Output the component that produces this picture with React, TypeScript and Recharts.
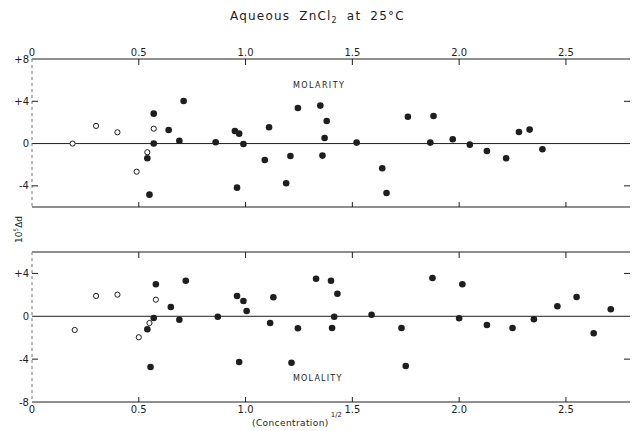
import React from 'react';
import {
  ScatterChart,
  Scatter,
  XAxis,
  YAxis,
  ReferenceLine,
} from 'recharts';

// (Concentration)^1/2 vs 10^5 Δd
const molarityOpen = [
  { x: 0.19, y: 0 },
  { x: 0.3, y: 1.67 },
  { x: 0.4, y: 1.07 },
  { x: 0.57, y: 1.41 },
  { x: 0.54, y: -0.82 },
  { x: 0.49, y: -2.66 },
];

const molarityFilled = [
  { x: 0.57, y: 2.83 },
  { x: 0.71, y: 4.03 },
  { x: 0.64, y: 1.29 },
  { x: 0.57, y: 0 },
  { x: 0.69, y: 0.27 },
  { x: 0.54, y: -1.39 },
  { x: 0.55, y: -4.83 },
  { x: 0.86, y: 0.12 },
  { x: 0.95, y: 1.19 },
  { x: 0.97, y: 0.94 },
  { x: 0.99, y: -0.04 },
  { x: 0.96, y: -4.17 },
  { x: 1.11, y: 1.54 },
  { x: 1.09, y: -1.55 },
  { x: 1.21, y: -1.17 },
  { x: 1.19, y: -3.76 },
  { x: 1.245, y: 3.37 },
  { x: 1.35, y: 3.59 },
  { x: 1.38, y: 2.14 },
  { x: 1.37, y: 0.53 },
  { x: 1.36, y: -1.14 },
  { x: 1.52, y: 0.09 },
  { x: 1.64, y: -2.34 },
  { x: 1.66, y: -4.67 },
  { x: 1.76, y: 2.54 },
  { x: 1.88, y: 2.61 },
  { x: 1.865, y: 0.09 },
  { x: 1.97, y: 0.41 },
  { x: 2.05, y: -0.1 },
  { x: 2.13, y: -0.7 },
  { x: 2.22, y: -1.39 },
  { x: 2.28, y: 1.1 },
  { x: 2.33, y: 1.32 },
  { x: 2.39, y: -0.54 },
];

const molalityOpen = [
  { x: 0.2, y: -1.28 },
  { x: 0.3, y: 1.9 },
  { x: 0.4, y: 2.02 },
  { x: 0.58, y: 1.55 },
  { x: 0.55, y: -0.63 },
  { x: 0.5, y: -1.96 },
];

const molalityFilled = [
  { x: 0.58, y: 2.99 },
  { x: 0.72, y: 3.32 },
  { x: 0.65, y: 0.87 },
  { x: 0.57, y: -0.16 },
  { x: 0.54, y: -1.21 },
  { x: 0.555, y: -4.73 },
  { x: 0.69, y: -0.32 },
  { x: 0.87, y: -0.04 },
  { x: 0.96, y: 1.9 },
  { x: 0.99, y: 1.43 },
  { x: 1.005, y: 0.49 },
  { x: 0.97, y: -4.27 },
  { x: 1.13, y: 1.77 },
  { x: 1.115, y: -0.63 },
  { x: 1.245, y: -1.12 },
  { x: 1.215, y: -4.33 },
  { x: 1.33, y: 3.51 },
  { x: 1.4, y: 3.32 },
  { x: 1.43, y: 2.11 },
  { x: 1.415, y: -0.04 },
  { x: 1.405, y: -1.09 },
  { x: 1.59, y: 0.15 },
  { x: 1.73, y: -1.09 },
  { x: 1.75, y: -4.64 },
  { x: 1.875, y: 3.58 },
  { x: 2.015, y: 2.99 },
  { x: 2.0, y: -0.19 },
  { x: 2.13, y: -0.81 },
  { x: 2.25, y: -1.09 },
  { x: 2.35, y: -0.28 },
  { x: 2.46, y: 0.93 },
  { x: 2.55, y: 1.8 },
  { x: 2.63, y: -1.59 },
  { x: 2.71, y: 0.65 },
];

const xTicks = [0, 0.5, 1.0, 1.5, 2.0, 2.5];
const xInnerTicks = [0.5, 1.0, 1.5, 2.0, 2.5];
const molarityYTicks = [-4, 0, 4, 8];
const molalityYTicks = [-8, -4, 0, 4];
const sideTicks = [-4, 4];

const INK = '#1e1e1e';
const FONT = '"DejaVu Sans", Arial, sans-serif';

const fmtX = (v: number) => (v === 0 ? '0' : v.toFixed(1));
const fmtY = (v: number) => (v > 0 ? `+${v}` : `${v}`);

const openDot = (p: any) => (
  <circle cx={p.cx} cy={p.cy} r={2.6} fill="#fff" stroke={INK} strokeWidth={1} />
);
const filledDot = (p: any) => <circle cx={p.cx} cy={p.cy} r={3.3} fill={INK} />;

// ticks point into the plot, labels sit outside
const TopTick = (labels: boolean) => (p: any) => (
  <g>
    {p.payload.value !== 0 && (
      <line x1={p.x} y1={p.y} x2={p.x} y2={p.y + 6} stroke={INK} strokeWidth={1} />
    )}
    {labels && (
      <text x={p.x} y={p.y - 3} textAnchor="middle" fontSize={10} fontFamily={FONT} fill={INK}>
        {fmtX(p.payload.value)}
      </text>
    )}
  </g>
);

const BottomTick = (labels: boolean) => (p: any) => (
  <g>
    {p.payload.value !== 0 && (
      <line x1={p.x} y1={p.y} x2={p.x} y2={p.y - 5} stroke={INK} strokeWidth={1} />
    )}
    {labels && (
      <text x={p.x} y={p.y + 11} textAnchor="middle" fontSize={10} fontFamily={FONT} fill={INK}>
        {fmtX(p.payload.value)}
      </text>
    )}
  </g>
);

const LeftTick = (p: any) => (
  <g>
    {Math.abs(p.payload.value) === 4 && (
      <line x1={p.x} y1={p.y} x2={p.x + 6} y2={p.y} stroke={INK} strokeWidth={1} />
    )}
    <text x={p.x - 3} y={p.y} dy="0.35em" textAnchor="end" fontSize={10} fontFamily={FONT} fill={INK}>
      {fmtY(p.payload.value)}
    </text>
  </g>
);

const RightTick = (p: any) => (
  <line x1={p.x} y1={p.y} x2={p.x - 6} y2={p.y} stroke={INK} strokeWidth={1} />
);

interface PanelProps {
  open: { x: number; y: number }[];
  filled: { x: number; y: number }[];
  yDomain: [number, number];
  yTicks: number[];
  labelsOnTop: boolean;
  height: number;
  margin: { top: number; right: number; bottom: number; left: number };
}

const Panel: React.FC<PanelProps> = ({ open, filled, yDomain, yTicks, labelsOnTop, height, margin }) => (
  <ScatterChart width={633} height={height} margin={margin}>
    <XAxis
      xAxisId="top"
      orientation="top"
      type="number"
      dataKey="x"
      domain={[0, 2.8]}
      ticks={labelsOnTop ? xTicks : xInnerTicks}
      height={labelsOnTop ? 30 : 1}
      tickSize={0}
      tickMargin={0}
      tickLine={false}
      tick={TopTick(labelsOnTop)}
      axisLine={{ stroke: INK, strokeWidth: 1 }}
      allowDataOverflow
    />
    <XAxis
      xAxisId="bottom"
      orientation="bottom"
      type="number"
      dataKey="x"
      domain={[0, 2.8]}
      ticks={labelsOnTop ? xInnerTicks : xTicks}
      height={labelsOnTop ? 1 : 20}
      tickSize={0}
      tickMargin={0}
      tickLine={false}
      tick={BottomTick(!labelsOnTop)}
      axisLine={{ stroke: INK, strokeWidth: 1 }}
      allowDataOverflow
    />
    <YAxis
      yAxisId="left"
      type="number"
      dataKey="y"
      domain={yDomain}
      ticks={yTicks}
      width={32}
      tickSize={0}
      tickMargin={0}
      tickLine={false}
      tick={LeftTick}
      axisLine={{ stroke: '#777', strokeWidth: 1, strokeDasharray: '3 3' }}
      allowDataOverflow
    />
    <YAxis
      yAxisId="right"
      orientation="right"
      type="number"
      dataKey="y"
      domain={yDomain}
      ticks={sideTicks}
      width={1}
      tickSize={0}
      tickMargin={0}
      tickLine={false}
      tick={RightTick}
      axisLine={false}
      allowDataOverflow
    />
    <ReferenceLine xAxisId="bottom" yAxisId="left" y={0} stroke={INK} strokeWidth={1} />
    <Scatter
      xAxisId="bottom"
      yAxisId="left"
      data={open}
      shape={openDot}
      isAnimationActive={false}
    />
    <Scatter
      xAxisId="bottom"
      yAxisId="left"
      data={filled}
      shape={filledDot}
      isAnimationActive={false}
    />
  </ScatterChart>
);

const abs = (left: number, top: number, extra: React.CSSProperties = {}): React.CSSProperties => ({
  position: 'absolute',
  left,
  top,
  fontFamily: FONT,
  color: INK,
  whiteSpace: 'nowrap',
  lineHeight: 1,
  ...extra,
});

export default function App() {
  return (
    <div style={{ position: 'absolute', left: 0, top: 0, width: 633, height: 431, background: '#fff' }}>
      <div style={abs(0, 0)}>
        <Panel
          open={molarityOpen}
          filled={molarityFilled}
          yDomain={[-6, 8]}
          yTicks={molarityYTicks}
          labelsOnTop
          height={220}
          margin={{ top: 29, right: 2, bottom: 12, left: 0 }}
        />
      </div>
      <div style={abs(0, 222)}>
        <Panel
          open={molalityOpen}
          filled={molalityFilled}
          yDomain={[-8, 6]}
          yTicks={molalityYTicks}
          labelsOnTop={false}
          height={209}
          margin={{ top: 29, right: 2, bottom: 9, left: 0 }}
        />
      </div>

      <div style={abs(230, 10, { fontSize: 12, letterSpacing: 1.2, wordSpacing: 4 })}>
        Aqueous ZnCl<sub style={{ fontSize: 8 }}>2</sub> at 25°C
      </div>
      <div style={abs(293, 82, { fontSize: 8, letterSpacing: 1.4 })}>MOLARITY</div>
      <div style={abs(293, 375, { fontSize: 8, letterSpacing: 1.2 })}>MOLALITY</div>
      <div style={abs(252, 419, { fontSize: 9, letterSpacing: 0.4 })}>
        (Concentration)<span style={{ fontSize: 7, position: 'relative', top: -9, marginLeft: 2, letterSpacing: 0 }}>1/2</span>
      </div>
      <div
        style={abs(-2, 224, {
          fontSize: 9,
          transform: 'rotate(-90deg)',
          transformOrigin: 'center',
          width: 40,
          textAlign: 'center',
        })}
      >
        10<sup style={{ fontSize: 6 }}>5</sup>Δd
      </div>
    </div>
  );
}
